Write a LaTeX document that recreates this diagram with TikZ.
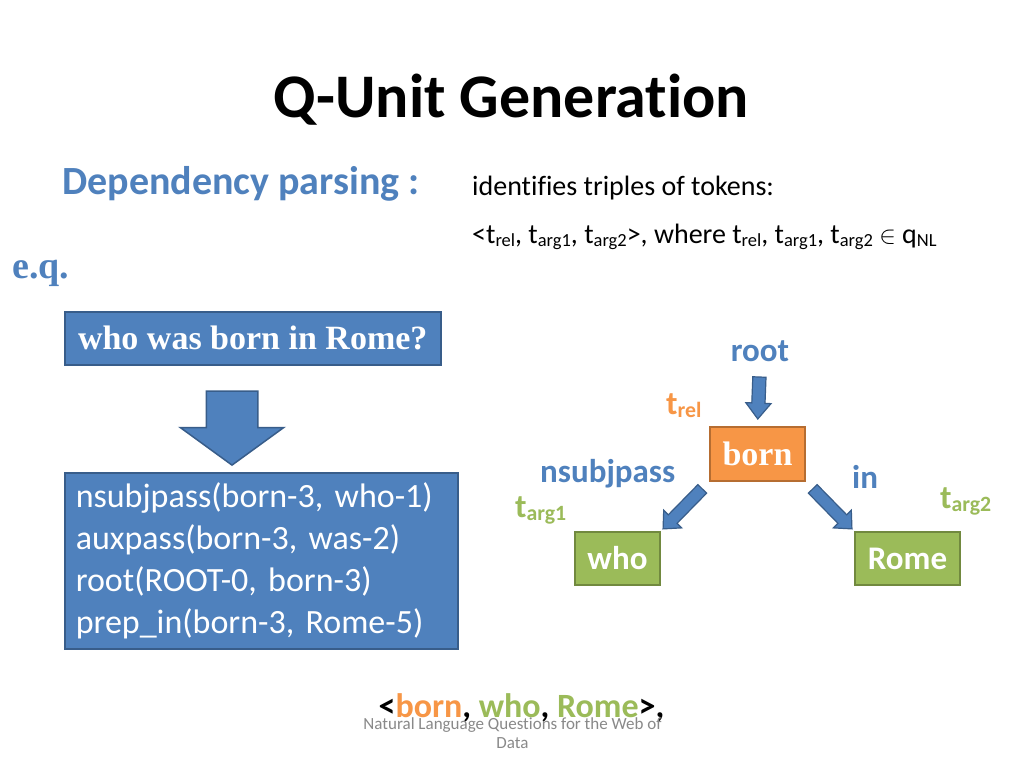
\documentclass[tikz,border=0pt]{standalone}
\usepackage{fontspec}
\setmainfont{Carlito}[Ligatures={NoCommon}]
\newfontfamily\tms{Liberation Serif}
\usetikzlibrary{shapes.arrows,calc}
\definecolor{accblue}{HTML}{4F81BD}
\definecolor{bluedark}{HTML}{385D8A}
\definecolor{orng}{HTML}{F79646}
\definecolor{orngdark}{HTML}{B66D31}
\definecolor{grn}{HTML}{9BBB59}
\definecolor{grndark}{HTML}{71893F}
\definecolor{footgray}{HTML}{898989}
\newcommand\fs[2]{\fontsize{#1pt}{#2pt}\selectfont}
\newcommand\sbs[1]{\raisebox{-0.12em}{\scalebox{0.66}{#1}}}
\tikzset{
  txt/.style={inner sep=0pt, anchor=base west},
  box/.style={draw=bluedark, fill=accblue, line width=1.5pt, inner sep=0pt, text=white},
  obox/.style={draw=orngdark, fill=orng, line width=1.5pt, inner sep=0pt, text=white},
  gbox/.style={draw=grndark, fill=grn, line width=1.5pt, inner sep=0pt, text=white},
  blockarr/.style={single arrow, draw=bluedark, fill=accblue, line width=1.2pt,
    minimum width=0pt, inner xsep=0pt, single arrow head indent=0pt,
    sloped, allow upside down},
  lbl/.style={txt, font=\bfseries\fs{33}{40}}
}
\begin{document}
\begin{tikzpicture}[x=1pt,y=-1pt]
\useasboundingbox[fill=white] (0,0) rectangle (1024,768);

\node[anchor=base, inner sep=0pt, font=\bfseries\fs{62}{74}] (title) at (511.5,117) {Q-Unit Generation};

\node[txt, text=accblue, font=\bfseries\fs{40}{48}] (dp) at (62,194) {Dependency parsing :};
\node[txt, font=\fs{28}{34}] (id1) at (472,195) {identifies triples of tokens:};
\node[txt, font=\fs{28}{34}] (id2) at (472,243) {<t\sbs{rel}, t\sbs{arg1}, t\sbs{arg2}>, where t\sbs{rel}, t\sbs{arg1}, t\sbs{arg2} $\in$ q\sbs{NL}};

\node[txt, text=accblue, font=\tms\bfseries\fs{38}{46}] (eq) at (12,278) {e.q.};

\node[box, anchor=north west, minimum width=376pt, minimum height=53pt,
      font=\tms\bfseries\fs{34}{40}] (q) at (64,311) {who was born in Rome?};

\node[box, anchor=north west, minimum width=393pt, minimum height=176pt,
      text width=371pt, inner xsep=11pt, align=left, font=\fs{34}{42}] (dep) at (64,472)
      {nsubjpass(born-3, who-1)\\auxpass(born-3, was-2)\\root(ROOT-0, born-3)\\prep\_in(born-3, Rome-5)};

\coordinate (bigA) at ($(q.south west)+(168,0)$);
\coordinate (bigB) at ($(dep.north west)+(168,0)$);
\path (bigA) -- node[blockarr, line width=1.5pt, minimum height=74pt, inner ysep=25pt,
      single arrow head extend=26pt, single arrow tip angle=108] {} (bigB);

% right diagram
\node[lbl, anchor=base, text=accblue] (root) at (760,361) {root};
\node[obox, minimum width=95pt, minimum height=54pt, font=\tms\bfseries\fs{34}{40}] (born) at (757.5,454) {born};
\node[gbox, minimum width=85pt, minimum height=53pt, font=\bfseries\fs{33}{40}] (who) at (617.5,558.5) {who};
\node[gbox, minimum width=105pt, minimum height=53pt, font=\bfseries\fs{33}{40}] (rome) at (907.5,558.5) {Rome};

\node[lbl, text=orng] (trel) at (666,414) {t\sbs{rel}};
\node[lbl, text=accblue] (nsub) at (540,482) {nsubjpass};
\node[lbl, text=accblue] (in) at (852,488) {in};
\node[lbl, text=grn] (targ1) at (515,517) {t\sbs{arg1}};
\node[lbl, text=grn] (targ2) at (940,508) {t\sbs{arg2}};

\path (root.south) -- node[blockarr, minimum height=42pt, inner ysep=6pt,
      single arrow head extend=6pt, single arrow tip angle=77] {} (born.north);
\path (born.south west) -- node[blockarr, minimum height=56pt, inner ysep=5.5pt,
      single arrow head extend=6.5pt, single arrow tip angle=85] {} (who.north east);
\path (born.south east) -- node[blockarr, minimum height=56pt, inner ysep=5.5pt,
      single arrow head extend=6.5pt, single arrow tip angle=85] {} (rome.north west);

% bottom triple
\node[anchor=base, inner sep=0pt, font=\bfseries\fs{34}{40}] (triple) at (521.5,717)
  {<\textcolor{orng}{born}, \textcolor{grn}{who}, \textcolor{grn}{Rome}>,};

\node[anchor=base, inner sep=0pt, align=center, text=footgray, font=\fs{17}{19}] (foot) at (512.5,748)
  {Natural Language Questions for the Web of\\Data};
\end{tikzpicture}
\end{document}
